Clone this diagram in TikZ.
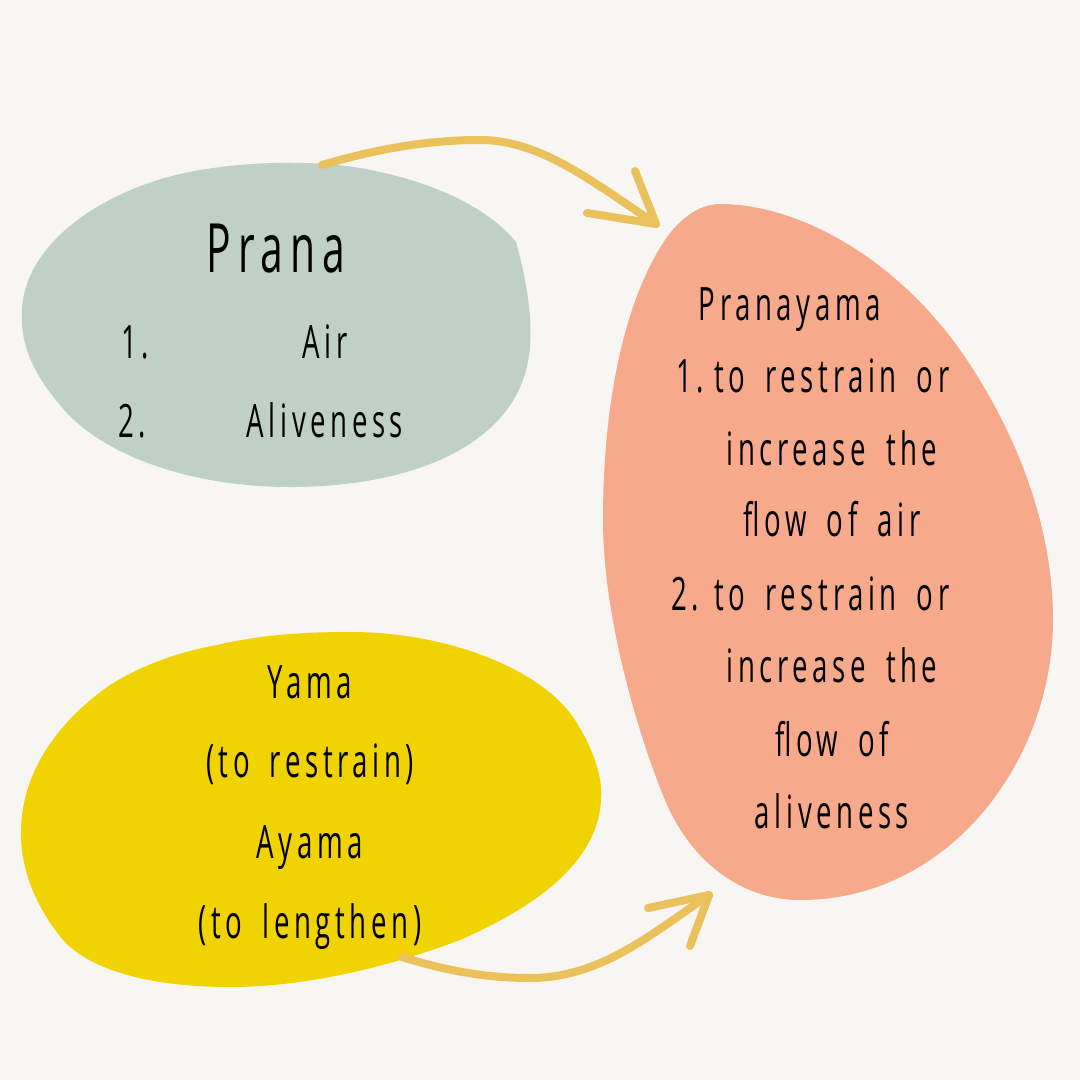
\documentclass[tikz,border=0pt]{standalone}
\usepackage{fontspec}
\newfontfamily\hand[FakeStretch=0.6,LetterSpace=10,WordSpace=1.7]{Open Sans}
\definecolor{bgc}{HTML}{F7F6F2}
\definecolor{greenc}{HTML}{BFD1C6}
\definecolor{yellowc}{HTML}{F0D300}
\definecolor{salmonc}{HTML}{F7A98B}
\definecolor{arrowc}{HTML}{EBC15C}
\begin{document}
\begin{tikzpicture}[x=1pt,y=-1pt,
  txt/.style={anchor=base, inner sep=0pt, text=black, font=\hand\fontsize{46}{50}\selectfont},
  bigtxt/.style={txt, font=\hand\fontsize{68}{72}\selectfont},
  arrowline/.style={draw=arrowc, line width=8pt, line cap=round, line join=round}]
\fill[bgc] (0,0) rectangle (1080,1080);
\useasboundingbox (0,0) rectangle (1080,1080);
% blobs
\fill[greenc] (516,242) .. controls (528,285) and (532,320) .. (530,345)
  .. controls (525,440) and (420,487) .. (290,487)
  .. controls (190,487) and (100,455) .. (60,405)
  .. controls (30,370) and (20,340) .. (22,310)
  .. controls (25,240) and (110,185) .. (200,170)
  .. controls (260,160) and (330,160) .. (380,172)
  .. controls (440,185) and (490,210) .. (516,242) -- cycle;
\fill[yellowc] (217,645) .. controls (260,635) and (300,632) .. (350,632)
  .. controls (450,632) and (540,670) .. (573,717)
  .. controls (595,750) and (603,780) .. (601,800)
  .. controls (598,860) and (540,905) .. (460,940)
  .. controls (380,970) and (300,987) .. (230,987)
  .. controls (150,987) and (90,970) .. (63,940)
  .. controls (30,900) and (20,860) .. (21,830)
  .. controls (22,770) and (60,720) .. (110,685)
  .. controls (150,660) and (190,650) .. (217,645) -- cycle;
\fill[salmonc] (720,204) .. controls (800,204) and (900,260) .. (967,360)
  .. controls (1020,440) and (1053,530) .. (1053,620)
  .. controls (1053,760) and (950,900) .. (800,900)
  .. controls (740,900) and (690,860) .. (665,800)
  .. controls (640,740) and (603,620) .. (603,520)
  .. controls (603,400) and (625,300) .. (665,240)
  .. controls (680,218) and (700,204) .. (720,204) -- cycle;
% arrows
\coordinate (a1s) at (322,165);
\coordinate (a1e) at (656,224);
\draw[arrowline] (a1s) .. controls (380,148) and (430,140) .. (480,140) .. controls (540,140) and (590,180) .. (a1e);
\draw[arrowline] (587,213) -- (a1e) -- (635,171);
\coordinate (a2s) at (402,957);
\coordinate (a2e) at (709,895);
\draw[arrowline] (a2s) .. controls (450,972) and (490,978) .. (530,978) .. controls (600,978) and (650,935) .. (a2e);
\draw[arrowline] (648,908) -- (a2e) -- (690,946);
% Prana
\node[bigtxt] (prana) at (276,272) {Prana};
\node[txt] (n1) at (135,358) {1.};
\node[txt] (air) at (325,358) {Air};
\node[txt] (n2) at (132,437) {2.};
\node[txt] (alive) at (325,437) {Aliveness};
% Yama
\node[txt] (yama) at (310,698) {Yama};
\node[txt] (yamad) at (310,777) {(to restrain)};
\node[txt] (ayama) at (310,858) {Ayama};
\node[txt] (ayamad) at (310,938) {(to lengthen)};
% Pranayama
\node[txt] (pny) at (790,320) {Pranayama};
\node[txt] (p1n) at (690,392) {1.};
\node[txt] (p1a) at (832,392) {to restrain or};
\node[txt] (p1b) at (832,465) {increase the};
\node[txt] (p1c) at (832,536) {flow of air};
\node[txt] (p2n) at (685,610) {2.};
\node[txt] (p2a) at (832,610) {to restrain or};
\node[txt] (p2b) at (832,682) {increase the};
\node[txt] (p2c) at (832,756) {flow of};
\node[txt] (p2d) at (832,828) {aliveness};
\end{tikzpicture}
\end{document}
